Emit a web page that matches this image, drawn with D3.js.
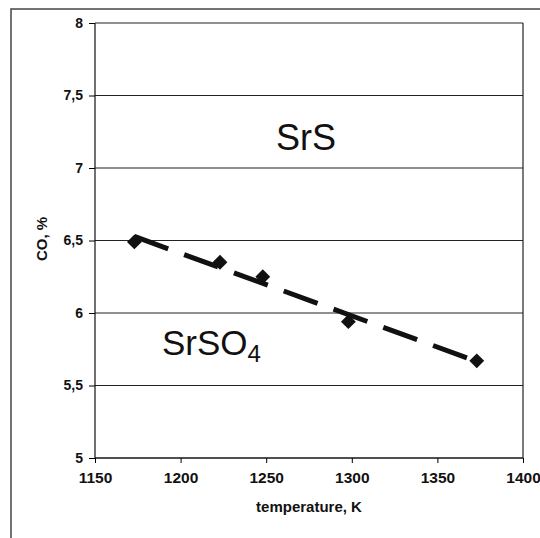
<!DOCTYPE html>
<html>
<head>
<meta charset="utf-8">
<script src="https://cdn.jsdelivr.net/npm/d3@7"></script>
<style>
  body { margin: 0; background: #fff; }
  text { font-family: "Liberation Sans", Arial, sans-serif; fill: #111; }
</style>
</head>
<body>
<script>
// data
const temperature = [1173, 1223, 1248, 1298, 1373];
const coPercent = [6.49, 6.35, 6.25, 5.94, 5.67];
const xTicks = [1150, 1200, 1250, 1300, 1350, 1400];
const yTicks = [5, 5.5, 6, 6.5, 7, 7.5, 8];

const width = 540;
const height = 538;
const margin = { left: 95, right: 17, top: 23, bottom: 80 };
const plotW = width - margin.left - margin.right;
const plotH = height - margin.top - margin.bottom;

const svg = d3.select('body').append('svg')
  .attr('width', width)
  .attr('height', height);

// outer frame of the scan (only top and left edges are visible)
svg.append('path')
  .attr('d', `M11,${height} V9 H${width}`)
  .attr('fill', 'none')
  .attr('stroke', '#444')
  .attr('stroke-width', 1.5);

const g = svg.append('g')
  .attr('transform', `translate(${margin.left}, ${margin.top})`);

const xScale = d3.scaleLinear().domain([1150, 1400]).range([0, plotW]);
const yScale = d3.scaleLinear().domain([5, 8]).range([plotH, 0]);

const comma = d => String(d).replace('.', ',');

// horizontal grid
g.selectAll('.grid')
  .data(yTicks)
  .enter()
  .append('line')
  .attr('x1', 0)
  .attr('x2', plotW)
  .attr('y1', d => yScale(d))
  .attr('y2', d => yScale(d))
  .attr('stroke', '#222')
  .attr('stroke-width', 1.2);

// right border
g.append('line')
  .attr('x1', plotW).attr('x2', plotW)
  .attr('y1', 0).attr('y2', plotH)
  .attr('stroke', '#222')
  .attr('stroke-width', 1.2);

const yAxis = d3.axisLeft(yScale)
  .tickValues(yTicks)
  .tickSize(6)
  .tickPadding(6)
  .tickFormat(comma);
g.append('g')
  .call(yAxis)
  .call(a => a.select('.domain').attr('stroke', '#111').attr('stroke-width', 1.2).attr('d', `M0,0V${plotH}`))
  .call(a => a.selectAll('text')
    .style('font-size', '14px')
    .style('font-weight', 'bold')
    .style('fill', '#111'));

const xAxis = d3.axisBottom(xScale)
  .tickValues(xTicks)
  .tickSize(5)
  .tickPadding(9)
  .tickFormat(d3.format('d'));
g.append('g')
  .attr('transform', `translate(0, ${plotH})`)
  .call(xAxis)
  .call(a => a.select('.domain').attr('stroke', '#111').attr('stroke-width', 1.2).attr('d', `M0,0H${plotW}`))
  .call(a => a.selectAll('text')
    .style('font-size', '15.5px')
    .style('font-weight', 'bold')
    .style('fill', '#111'));

// axis titles
svg.append('text')
  .text('temperature, K')
  .attr('x', margin.left + plotW / 2)
  .attr('y', 512)
  .attr('text-anchor', 'middle')
  .style('font-size', '15px')
  .style('font-weight', 'bold');

svg.append('text')
  .text('CO, %')
  .attr('transform', 'translate(47, 239) rotate(-90)')
  .attr('text-anchor', 'middle')
  .style('font-size', '15px')
  .style('font-weight', 'bold');

// linear trend, dashed
const n = temperature.length;
const mx = d3.mean(temperature);
const my = d3.mean(coPercent);
let sxy = 0;
let sxx = 0;
for (let i = 0; i < n; i++) {
  sxy += (temperature[i] - mx) * (coPercent[i] - my);
  sxx += (temperature[i] - mx) ** 2;
}
const slope = sxy / sxx;
const x0 = d3.min(temperature);
const x1 = d3.max(temperature);
g.append('line')
  .attr('x1', xScale(x0))
  .attr('y1', yScale(my + slope * (x0 - mx)))
  .attr('x2', xScale(x1))
  .attr('y2', yScale(my + slope * (x1 - mx)))
  .attr('stroke', '#111')
  .attr('stroke-width', 5)
  .attr('stroke-dasharray', '36,17');

// diamond markers
g.selectAll('.pt')
  .data(temperature)
  .enter()
  .append('path')
  .attr('d', d3.symbol(d3.symbolSquare, 110))
  .attr('transform', (d, i) => `translate(${xScale(d)}, ${yScale(coPercent[i])}) rotate(45)`)
  .attr('fill', '#111');

// region labels
svg.append('text')
  .text('SrS')
  .attr('x', 276)
  .attr('y', 150)
  .style('font-size', '36px');

const so4 = svg.append('text')
  .attr('x', 162)
  .attr('y', 355)
  .style('font-size', '35px');
so4.append('tspan').text('SrSO');
so4.append('tspan').text('4').style('font-size', '24px').attr('dy', 7);
</script>
</body>
</html>
